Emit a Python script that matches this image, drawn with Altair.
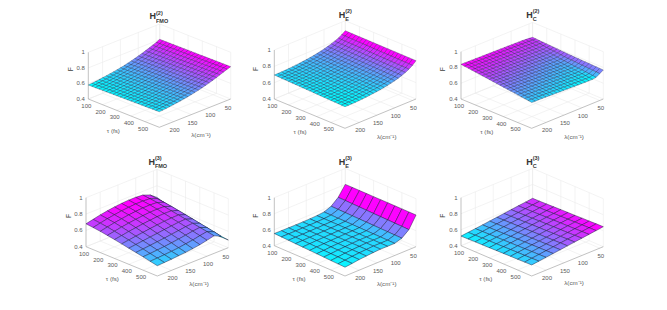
import numpy as np
import pandas as pd
import altair as alt

alt.data_transformers.disable_max_rows()

# ---- axis ticks ----
TAU_TICKS = [100, 200, 300, 400, 500]
LAM_TICKS = [50, 100, 150, 200]
F_TICKS = [0.4, 0.6, 0.8, 1.0]
F_LABELS = ["0.4", "0.6", "0.8", "1"]
TAU_DOM = (100, 600)
LAM_DOM = (240, 40)

# ---- surface values: rows at tau stations, each from lambda=240 down to lambda=40 ----
S1 = [
 [.580,.584,.589,.594,.600,.606,.613,.620,.628,.637,.647,.658,.670,.683,.697,.712,.728,.745,.763,.782,.803],
 [.590,.594,.598,.603,.609,.615,.622,.630,.638,.647,.657,.668,.680,.693,.707,.722,.738,.755,.773,.791,.809],
 [.600,.603,.608,.613,.619,.625,.632,.640,.648,.657,.667,.678,.690,.703,.717,.732,.748,.765,.783,.800,.815],
]
S2 = [
 [.694,.694,.695,.697,.699,.702,.706,.710,.715,.720,.726,.733,.741,.750,.761,.773,.787,.803,.822,.847,.877],
 [.679,.679,.680,.681,.683,.686,.690,.695,.700,.705,.711,.718,.726,.735,.746,.758,.773,.790,.811,.838,.873],
 [.664,.664,.665,.666,.668,.671,.675,.680,.685,.690,.696,.703,.711,.720,.731,.744,.760,.778,.800,.830,.869],
]
S3 = [
 [.840,.839,.838,.837,.836,.835,.834,.833,.832,.831,.830,.829,.828,.827,.826,.825,.824,.823,.820,.816,.811],
 [.785,.783,.781,.779,.777,.775,.773,.771,.769,.767,.765,.763,.761,.759,.757,.755,.754,.754,.757,.768,.785],
 [.728,.726,.725,.724,.722,.721,.719,.718,.716,.715,.713,.712,.710,.709,.707,.706,.705,.705,.712,.740,.768],
]
S4 = [
 [.680,.700,.720,.735,.748,.757,.762,.762,.755,.722,.657],
 [.671,.690,.709,.723,.736,.745,.751,.752,.746,.713,.630],
 [.660,.678,.696,.709,.722,.731,.738,.740,.735,.703,.600],
 [.646,.662,.679,.692,.704,.714,.721,.724,.721,.690,.575],
 [.631,.645,.660,.672,.684,.694,.702,.707,.705,.675,.550],
 [.614,.626,.639,.650,.662,.672,.682,.688,.690,.659,.530],
 [.597,.607,.618,.629,.639,.651,.661,.671,.675,.643,.515],
 [.580,.588,.598,.607,.617,.629,.640,.653,.660,.626,.503],
 [.563,.569,.577,.585,.595,.607,.620,.635,.645,.610,.497],
 [.544,.549,.555,.562,.571,.584,.597,.615,.630,.593,.495],
 [.526,.531,.536,.545,.551,.562,.575,.595,.615,.575,.494],
]
S5 = [
 [.552,.551,.550,.550,.550,.552,.556,.565,.600,.675,.800],
 [.548,.548,.548,.549,.550,.552,.556,.564,.598,.673,.800],
 [.544,.545,.546,.548,.549,.552,.555,.562,.596,.670,.799],
 [.539,.542,.545,.547,.549,.552,.555,.561,.594,.668,.799],
 [.535,.539,.543,.546,.549,.552,.554,.560,.592,.665,.798],
 [.531,.536,.541,.545,.548,.552,.554,.558,.590,.662,.798],
 [.527,.532,.539,.544,.548,.553,.554,.557,.588,.660,.798],
 [.523,.529,.537,.543,.548,.553,.553,.556,.586,.658,.797],
 [.518,.526,.536,.542,.548,.553,.553,.555,.584,.655,.797],
 [.514,.523,.534,.541,.547,.553,.552,.553,.582,.653,.796],
 [.510,.520,.532,.540,.547,.553,.552,.552,.580,.650,.796],
]
S6 = [
 [.520,.530,.540,.550,.561,.572,.583,.594,.605,.615,.626],
 [.522,.532,.542,.552,.563,.574,.585,.596,.607,.617,.628],
 [.524,.534,.544,.554,.565,.576,.587,.598,.609,.619,.630],
 [.525,.536,.546,.556,.567,.578,.589,.600,.611,.622,.633],
 [.527,.538,.548,.558,.569,.581,.592,.603,.614,.624,.636],
 [.529,.540,.550,.561,.572,.583,.594,.605,.616,.627,.638],
 [.531,.542,.552,.563,.574,.585,.596,.607,.618,.629,.640],
 [.533,.544,.554,.565,.576,.587,.598,.609,.620,.631,.643],
 [.534,.545,.556,.567,.578,.589,.600,.611,.622,.633,.645],
 [.536,.547,.558,.569,.580,.592,.603,.614,.625,.636,.648],
 [.538,.549,.560,.571,.582,.594,.605,.616,.627,.638,.650],
]

# ---- panel layout (left, front, right floor corners; y of F=1 tick) ----
PANELS = [
 dict(s=S1, n=21, L=(88.3, 99.0), Fr=(159.3, 127.3), R=(230.7, 99.0), top=52.3,
      sub="FMO", sup="(2)", hx=152.8, hy=16.3, Ftxt=(70.7, 69.3), ttxt=(113.3, 131.0), ltxt=(201.0, 135.0)),
 dict(s=S2, n=21, L=(274.3, 99.0), Fr=(345.0, 128.3), R=(416.0, 99.0), top=50.0,
      sub="E", sup="(2)", hx=342.0, hy=14.5, Ftxt=(255.7, 69.0), ttxt=(300.0, 132.3), ltxt=(386.7, 137.3)),
 dict(s=S3, n=21, L=(461.0, 99.0), Fr=(531.7, 128.3), R=(603.3, 99.0), top=51.7,
      sub="C", sup="(2)", hx=529.5, hy=14.5, Ftxt=(443.3, 69.3), ttxt=(486.7, 132.3), ltxt=(574.0, 136.7)),
 dict(s=S4, n=11, L=(86.0, 246.7), Fr=(157.3, 276.0), R=(228.3, 247.7), top=197.7,
      sub="FMO", sup="(3)", hx=151.7, hy=161.5, Ftxt=(69.0, 216.0), ttxt=(112.3, 279.3), ltxt=(199.0, 284.0)),
 dict(s=S5, n=11, L=(274.3, 245.7), Fr=(345.0, 276.0), R=(416.0, 246.7), top=197.7,
      sub="E", sup="(3)", hx=342.0, hy=161.5, Ftxt=(255.7, 215.7), ttxt=(299.0, 279.3), ltxt=(386.7, 284.0)),
 dict(s=S6, n=11, L=(461.0, 245.7), Fr=(531.7, 276.0), R=(603.3, 246.7), top=197.7,
      sub="C", sup="(3)", hx=529.5, hy=161.5, Ftxt=(443.3, 215.7), ttxt=(485.7, 279.3), ltxt=(574.0, 283.3)),
]

cells_fine, cells_coarse, grid, axes, ticks, labels, ftitle, ttitle = [], [], [], [], [], [], [], []
hs, supsub = [], []
cid = gid = 0


def add(lst, pts, i):
    for k, (x, y) in enumerate(pts):
        lst.append({"id": i, "ord": k, "x": x, "y": y})


for p, P in enumerate(PANELS):
    L, Fr, R = np.array(P["L"]), np.array(P["Fr"]), np.array(P["R"])
    B = L + R - Fr
    H = L[1] - P["top"]
    tv = (Fr - L)  # floor vector along tau
    lv = (B - L)   # floor vector along lambda (240 -> 40)

    def floor(t, l):
        return L + tv * t + lv * l

    def proj(t, l, f):
        q = floor(t, l)
        return (float(q[0]), float(q[1] - (f - 0.4) / 0.6 * H))

    def tfrac(v):
        return (v - TAU_DOM[0]) / (TAU_DOM[1] - TAU_DOM[0])

    def lfrac(v):
        return (LAM_DOM[0] - v) / (LAM_DOM[0] - LAM_DOM[1])

    # walls and floor grid
    segs = []
    for v in TAU_TICKS:
        t = tfrac(v)
        segs.append([proj(t, 0, .4), proj(t, 1, .4), proj(t, 1, 1)])
    for v in LAM_TICKS:
        l = lfrac(v)
        segs.append([proj(1, l, .4), proj(0, l, .4), proj(0, l, 1)])
    for f in F_TICKS:
        segs.append([proj(0, 0, f), proj(0, 1, f), proj(1, 1, f)])
    segs.append([proj(1, 1, .4), proj(1, 1, 1)])
    segs.append([proj(0, 1, .4), proj(0, 1, 1)])
    for s in segs:
        add(grid, s, gid)
        gid += 1

    # axis lines
    add(axes, [proj(0, 0, 1), proj(0, 0, .4), proj(1, 0, .4), proj(1, 1, .4)], gid)
    gid += 1

    # surface
    S = np.array(P["s"], dtype=float)
    n = P["n"]
    if S.shape[0] != n:
        st = np.linspace(0, 1, S.shape[0])
        S = np.array([[np.interp(a, st, S[:, j]) for j in range(n)] for a in np.linspace(0, 1, n)])
    lo, hi = S.min(), S.max()
    g = np.linspace(0, 1, n)
    target = cells_fine if n > 11 else cells_coarse
    for j in range(n - 2, -1, -1):
        for i in range(n - 1):
            col = (S[i, j + 1] - lo) / (hi - lo)
            corners = [(i, j), (i + 1, j), (i + 1, j + 1), (i, j + 1), (i, j)]
            for k, (a, b) in enumerate(corners):
                x, y = proj(g[a], g[b], S[a, b])
                target.append({"id": cid, "ord": k, "x": x, "y": y, "t": float(col)})
            cid += 1

    # tick labels
    for v in TAU_TICKS:
        q = floor(tfrac(v), 0)
        labels.append({"x": q[0] - 2, "y": q[1] + 7, "txt": str(v)})
    for v in LAM_TICKS:
        q = floor(1, lfrac(v))
        labels.append({"x": q[0] + 1, "y": q[1] + 8, "txt": str(v)})
    for f, txt in zip(F_TICKS, F_LABELS):
        _, y = proj(0, 0, f)
        ticks.append({"x": L[0] - 3.5, "y": y, "txt": txt})

    ftitle.append({"x": P["Ftxt"][0], "y": P["Ftxt"][1], "txt": "F"})
    ttitle.append({"x": P["ttxt"][0], "y": P["ttxt"][1], "txt": "τ (fs)"})
    ttitle.append({"x": P["ltxt"][0], "y": P["ltxt"][1], "txt": "λ(cm⁻¹)"})
    hs.append({"x": P["hx"], "y": P["hy"], "txt": "H"})
    supsub.append({"x": P["hx"] + 3.2, "y": P["hy"] - 3.2, "txt": P["sup"]})
    supsub.append({"x": P["hx"] + 3.2, "y": P["hy"] + 4.2, "txt": P["sub"]})

X = alt.X("x:Q", axis=None, scale=alt.Scale(domain=[8, 659], nice=False, zero=False))
Y = alt.Y("y:Q", axis=None, scale=alt.Scale(domain=[298, 8], nice=False, zero=False))
FONT = "Liberation Sans"
COLOR = alt.Color("t:Q", legend=None,
                  scale=alt.Scale(domain=[0, 1], range=["#00ffff", "#ff00ff"], interpolate="rgb"))


def text_layer(rows, **kw):
    return alt.Chart(pd.DataFrame(rows)).mark_text(font=FONT, opacity=0.99, **kw).encode(x=X, y=Y, text="txt:N")


def surf_layer(rows, width, alpha):
    return alt.Chart(pd.DataFrame(rows)).mark_line(
        filled=True, stroke="#101030", strokeWidth=width, strokeOpacity=alpha
    ).encode(x=X, y=Y, detail="id:N", order="ord:Q", color=COLOR)


grid_layer = alt.Chart(pd.DataFrame(grid)).mark_line(color="#ebebeb", strokeWidth=0.6).encode(
    x=X, y=Y, detail="id:N", order="ord:Q")
axis_layer = alt.Chart(pd.DataFrame(axes)).mark_line(color="#999999", strokeWidth=0.6).encode(
    x=X, y=Y, detail="id:N", order="ord:Q")

chart = alt.layer(
    grid_layer, axis_layer,
    surf_layer(cells_fine, 0.4, 0.7),
    surf_layer(cells_coarse, 0.5, 0.85),
    text_layer(labels, fontSize=6, color="#595959", align="center", baseline="middle"),
    text_layer(ticks, fontSize=6, color="#595959", align="right", baseline="middle"),
    text_layer(ftitle, fontSize=6.5, color="#404040", align="center", baseline="middle", angle=270),
    text_layer(ttitle, fontSize=6.2, color="#595959", align="center", baseline="middle"),
    text_layer(hs, fontSize=9, fontWeight="bold", color="#333333", align="center", baseline="middle"),
    text_layer(supsub, fontSize=5.5, fontWeight="bold", color="#333333", align="left", baseline="middle"),
).properties(
    width=651, height=290, padding=0, autosize=alt.AutoSizeParams(type="none")
).configure_view(stroke=None)

chart.save("out.html", embed_options={"renderer": "svg", "actions": False})
